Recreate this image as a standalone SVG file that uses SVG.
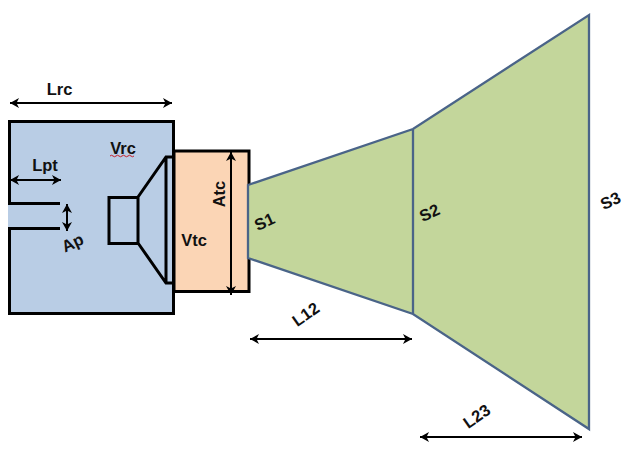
<svg xmlns="http://www.w3.org/2000/svg" width="633" height="457" viewBox="0 0 633 457">
<style>
.t{font-family:"Liberation Sans",Arial,sans-serif;font-weight:700;font-size:16.500px;fill:#111;text-anchor:middle}
.k{fill:none;stroke:#000;stroke-width:3}
.b{fill:none;stroke:#4a6488;stroke-width:2.300}
.d{fill:none;stroke:#000;stroke-width:2;marker-start:url(#s);marker-end:url(#e)}
</style>
<defs>
<marker id="e" markerUnits="userSpaceOnUse" markerWidth="12" markerHeight="12" refX="10" refY="6" orient="auto"><path d="M1 1L10 6L1 11L3.500 6Z" fill="#000"/></marker>
<marker id="s" markerUnits="userSpaceOnUse" markerWidth="12" markerHeight="12" refX="2" refY="6" orient="auto"><path d="M11 1L2 6L11 11L8.500 6Z" fill="#000"/></marker>
</defs>
<rect width="633" height="457" fill="#fff"/>
<g id="throat-chamber">
<rect x="174" y="151" width="75" height="140.500" class="k" style="fill:#fbd5b5"/>
</g>
<g id="horn">
<path d="M248 185L413 129L589 15V429L413 314L248 258Z" fill="#c3d69b"/>
<path class="b" d="M248 185L413 129L589 15V429L413 314L248 258ZM413 129V314"/>
</g>
<g id="rear-chamber">
<rect x="9.500" y="121.500" width="164" height="192" fill="#b9cde5"/>
<path class="k" d="M9.500 203V121.500H173.500V313.500H9.500V229"/>
<rect x="8" y="205" width="3" height="22" fill="#b9cde5"/>
</g>
<g id="port">
<path class="k" d="M8 203.500H60M8 228.500H60"/>
</g>
<g id="driver">
<path d="M138 197L166 157V283L138 243Z" fill="#b9cde5"/>
<path class="k" d="M109 197.500H138V243.500H109ZM138 197L166 157H173M138 243L166 283H173M166 157V283"/>
</g>
<g id="connectors">
<path class="d" d="M10 103H172"/>
<path class="d" d="M10 180H61"/>
<path class="d" d="M67 204V231"/>
<path class="d" d="M231 152V295"/>
<path class="d" d="M250 339H412"/>
<path class="d" d="M420 437H582"/>
</g>
<g id="labels">
<text class="t" x="59.500" y="95">Lrc</text>
<text class="t" x="45" y="171">Lpt</text>
<text class="t" transform="translate(75 248) rotate(-25)">Ap</text>
<text class="t" x="123" y="154">Vrc</text>
<path d="M110 156q1.500 -1.500 3 0t3 0t3 0t3 0t3 0t3 0t3 0t3 0" fill="none" stroke="#c8202a" stroke-width="1"/>
<text class="t" x="194" y="246">Vtc</text>
<text class="t" transform="translate(224.500 194) rotate(-90)">Atc</text>
<text class="t" transform="translate(267 227) rotate(-25)">S1</text>
<text class="t" transform="translate(432 218) rotate(-25)">S2</text>
<text class="t" transform="translate(613 206) rotate(-25)">S3</text>
<text class="t" transform="translate(309 319) rotate(-35)">L12</text>
<text class="t" transform="translate(480 421) rotate(-35)">L23</text>
</g>
</svg>
